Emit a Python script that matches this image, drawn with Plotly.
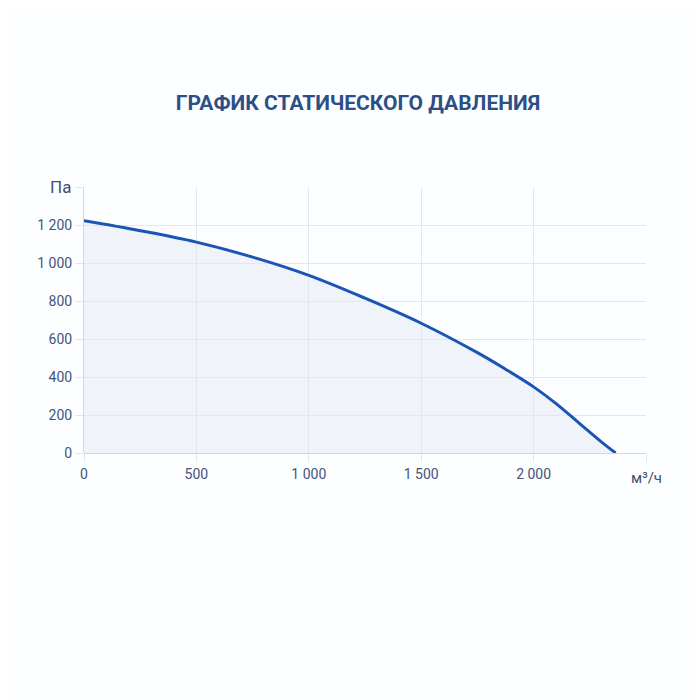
import plotly.graph_objects as go

# curva pressione statica
portata = [0, 250, 500, 750, 1000, 1250, 1500, 1750, 1875, 2000, 2100, 2200, 2300, 2365]
pressione = [1222, 1170, 1110, 1031, 935, 815, 683, 528, 441, 348, 260, 160, 60, 0]

x_ticks = [0, 500, 1000, 1500, 2000, 2500]
x_labels = ["0", "500", "1 000", "1 500", "2 000", ""]
y_ticks = [0, 200, 400, 600, 800, 1000, 1200, 1400]
y_labels = ["0", "200", "400", "600", "800", "1 000", "1 200", ""]

titolo = "ГРАФИК СТАТИЧЕСКОГО ДАВЛЕНИЯ"
unita_y = "Па"
unita_x = "м³/ч"

colore_testo = "#43557a"
colore_griglia = "#e3e7ee"

fig = go.Figure()
fig.add_trace(go.Scatter(
    x=portata, y=pressione, mode="lines",
    line=dict(color="#1a55b5", width=3, shape="spline", smoothing=1.0),
    fill="tozeroy", fillcolor="rgba(225,233,245,0.45)",
    hoverinfo="skip", showlegend=False,
))

# il body della pagina ha 8px di margine
fig.update_layout(
    width=700, height=700,
    paper_bgcolor="#fdfeff", plot_bgcolor="#fdfeff",
    margin=dict(l=76, r=62, t=179, b=255),
    title=dict(text="<b>" + titolo + "</b>", x=0.5, xanchor="center",
               y=1 - 95 / 700, yanchor="middle",
               font=dict(family="Roboto", size=21, color="#2c4f86")),
    font=dict(family="Roboto", size=14, color=colore_testo),
    xaxis=dict(range=[0, 2500], tickvals=x_ticks, ticktext=x_labels,
               showgrid=True, gridcolor=colore_griglia, gridwidth=1,
               ticks="outside", ticklen=8, tickcolor=colore_griglia,
               zeroline=False, showline=False, fixedrange=True),
    yaxis=dict(range=[0, 1400], tickvals=y_ticks, ticktext=y_labels,
               showgrid=True, gridcolor=colore_griglia, gridwidth=1,
               ticks="outside", ticklen=8, tickcolor=colore_griglia,
               zeroline=True, zerolinecolor="#d3d8e0", zerolinewidth=1,
               showline=True, linecolor="#d3d8e0", fixedrange=True),
)

fig.add_annotation(x=0, y=1400, xref="paper", yref="y", text=unita_y,
                   showarrow=False, xanchor="right", yanchor="middle", xshift=-11,
                   font=dict(size=17, color="#3e5075"))
fig.add_annotation(x=2500, y=0, xref="x", yref="paper", text=unita_x,
                   showarrow=False, xanchor="center", yanchor="top", yshift=-14,
                   font=dict(size=15, color="#3e5075"))

fig.write_html("out.html")
